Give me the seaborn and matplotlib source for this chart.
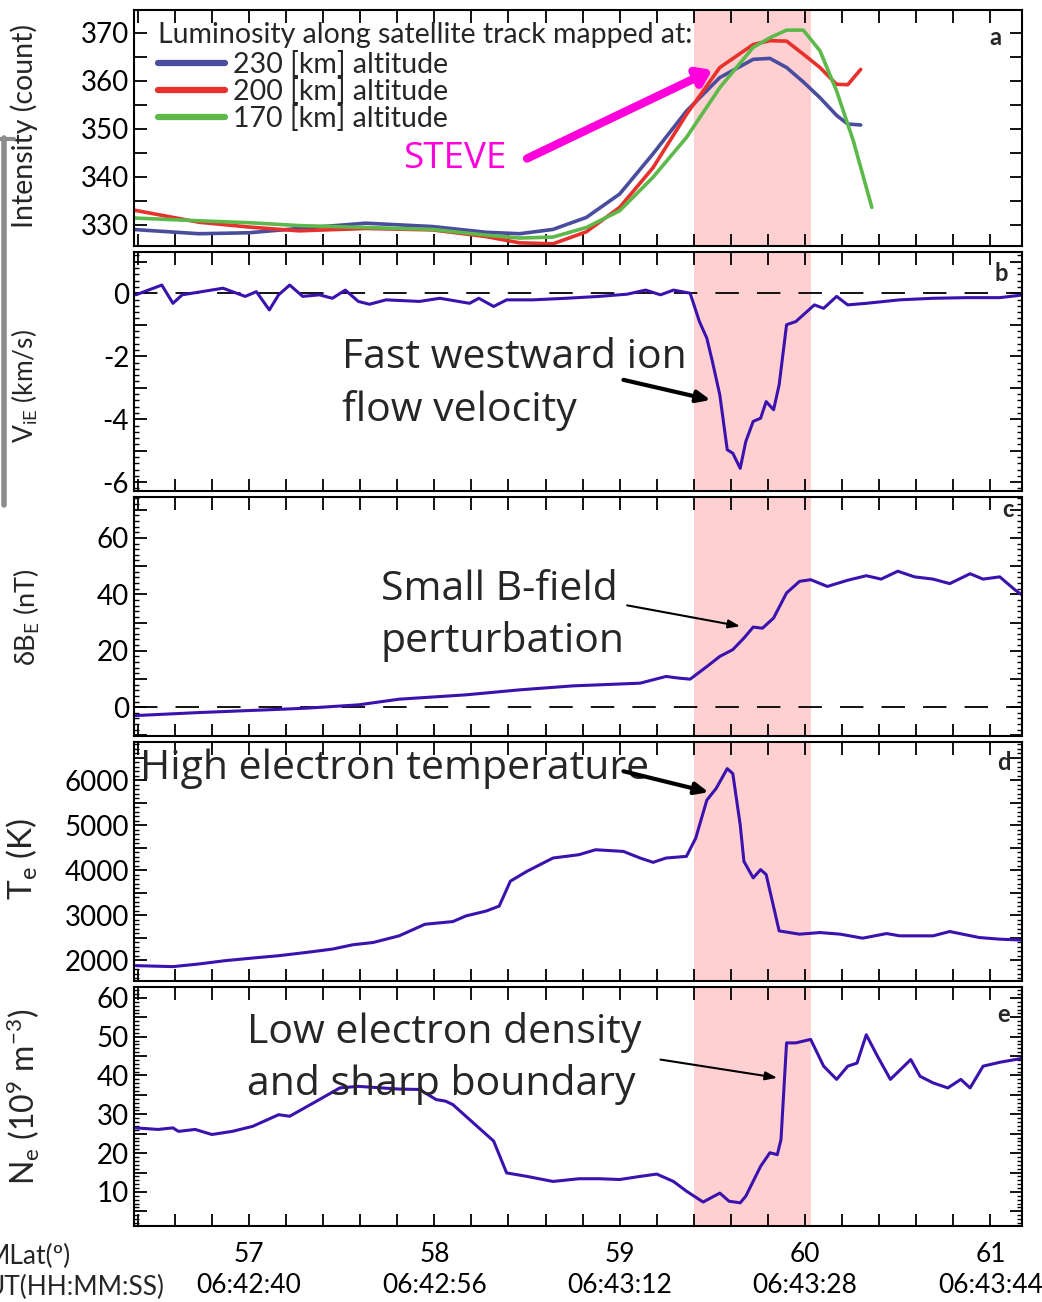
import matplotlib
matplotlib.use("Agg")
import matplotlib.pyplot as plt
from matplotlib.ticker import MultipleLocator, FuncFormatter
from matplotlib.lines import Line2D
import seaborn as sns

# ---------------- data ----------------
# panel a : luminosity along the satellite track
lat_lum = [56.37, 56.73, 57.0, 57.27, 57.63, 57.99, 58.28, 58.46, 58.64, 58.82, 59.0,
           59.18, 59.36, 59.54, 59.72, 59.81, 59.90, 59.99, 60.08, 60.17, 60.23, 60.30]
lum_230 = [329.0, 328.1, 328.3, 329.2, 330.3, 329.6, 328.4, 328.1, 329.0, 331.5, 336.4,
           344.8, 353.7, 360.7, 364.5, 364.7, 362.8, 359.8, 356.5, 352.8, 351.0, 350.8]
lum_200 = [333.1, 330.5, 329.5, 328.7, 329.2, 328.9, 327.5, 326.2, 326.0, 328.5, 333.6,
           341.9, 353.0, 362.8, 367.6, 368.4, 368.3, 365.6, 362.8, 359.3, 359.2, 362.4]
lat_lum_170 = [56.37, 56.73, 57.0, 57.27, 57.63, 57.99, 58.28, 58.46, 58.64, 58.82, 59.0,
               59.18, 59.36, 59.54, 59.72, 59.81, 59.90, 59.99, 60.08, 60.17, 60.26, 60.36]
lum_170 = [331.4, 330.8, 330.4, 329.8, 329.4, 329.0, 327.8, 327.2, 327.4, 329.4, 332.9,
           339.9, 348.2, 358.6, 367.0, 369.0, 370.6, 370.6, 366.3, 357.9, 347.5, 333.6]

# panel b : ion drift velocity V_iE (km/s)
lat_v = [56.39, 56.53, 56.59, 56.64, 56.86, 56.98, 57.04, 57.11, 57.16, 57.22, 57.29, 57.38,
         57.45, 57.52, 57.59, 57.65, 57.74, 57.92, 58.03, 58.19, 58.24, 58.32, 58.39, 58.53,
         58.71, 58.89, 59.04, 59.14, 59.22, 59.29, 59.38, 59.43, 59.47, 59.50, 59.54, 59.58,
         59.61, 59.65, 59.68, 59.72, 59.76, 59.79, 59.83, 59.86, 59.90, 59.95, 60.05, 60.10,
         60.17, 60.23, 60.33, 60.51, 60.69, 60.87, 61.05, 61.18]
v_ie = [-0.05, 0.26, -0.32, -0.05, 0.16, -0.10, 0.05, -0.53, -0.05, 0.26, -0.10, -0.05,
        -0.16, 0.10, -0.26, -0.35, -0.21, -0.26, -0.16, -0.32, -0.16, -0.42, -0.21, -0.21,
        -0.16, -0.10, -0.03, 0.10, -0.05, 0.10, 0.0, -0.90, -1.43, -2.17, -3.23, -4.97,
        -5.08, -5.56, -4.71, -4.07, -3.97, -3.44, -3.70, -2.91, -1.00, -0.90, -0.37, -0.48,
        -0.10, -0.37, -0.32, -0.21, -0.16, -0.14, -0.14, -0.05]

# panel c : magnetic perturbation dB_E (nT)
lat_b = [56.39, 56.73, 57.09, 57.31, 57.59, 57.81, 58.17, 58.46, 58.75, 58.89, 59.11, 59.25,
         59.32, 59.38, 59.47, 59.54, 59.61, 59.67, 59.72, 59.77, 59.83, 59.90, 59.97, 60.03,
         60.12, 60.23, 60.33, 60.41, 60.50, 60.59, 60.69, 60.78, 60.89, 60.96, 61.05, 61.13,
         61.18]
db_e = [-2.96, -1.9, -0.95, -0.35, 0.83, 2.84, 4.38, 6.15, 7.57, 7.93, 8.52, 10.9,
        10.3, 9.94, 14.4, 18.0, 20.4, 24.5, 28.4, 28.0, 31.6, 40.5, 44.6, 45.2,
        42.8, 45.0, 46.6, 45.4, 48.2, 46.2, 45.4, 43.8, 47.3, 45.4, 46.2, 41.7,
        39.3]

# panel d : electron temperature T_e (K)
lat_t = [56.39, 56.59, 56.73, 56.87, 57.02, 57.16, 57.31, 57.45, 57.56, 57.67, 57.81, 57.95,
         58.10, 58.17, 58.28, 58.35, 58.41, 58.50, 58.64, 58.78, 58.87, 59.02, 59.11, 59.18,
         59.25, 59.36, 59.41, 59.47, 59.52, 59.58, 59.61, 59.65, 59.67, 59.72, 59.76, 59.79,
         59.86, 59.97, 60.08, 60.19, 60.31, 60.44, 60.51, 60.69, 60.78, 60.94, 61.05, 61.18]
t_e = [1875, 1853, 1912, 1985, 2044, 2096, 2169, 2243, 2339, 2390, 2538, 2796,
       2855, 2980, 3090, 3200, 3753, 3974, 4269, 4343, 4453, 4416, 4269, 4173,
       4269, 4306, 4711, 5558, 5816, 6258, 6147, 5006, 4195, 3827, 4011, 3901,
       2648, 2575, 2611, 2575, 2486, 2589, 2538, 2538, 2634, 2500, 2464, 2442]

# panel e : electron density N_e (10^9 m^-3)
lat_n = [56.39, 56.51, 56.59, 56.62, 56.71, 56.80, 56.91, 57.02, 57.16, 57.22, 57.38, 57.49,
         57.59, 57.81, 57.92, 58.01, 58.06, 58.10, 58.21, 58.32, 58.39, 58.50, 58.64, 58.78,
         58.89, 59.00, 59.11, 59.20, 59.29, 59.36, 59.45, 59.54, 59.59, 59.65, 59.68, 59.76,
         59.81, 59.85, 59.87, 59.90, 59.95, 60.03, 60.10, 60.17, 60.23, 60.28, 60.33, 60.39,
         60.46, 60.57, 60.62, 60.69, 60.77, 60.84, 60.89, 60.96, 61.05, 61.18]
n_e = [26.5, 26.1, 26.5, 25.6, 26.1, 24.8, 25.6, 26.9, 29.9, 29.5, 33.8, 36.8,
       37.2, 36.5, 36.4, 33.8, 33.4, 32.5, 27.8, 23.1, 14.9, 14.0, 12.7, 13.4,
       13.4, 13.2, 14.0, 14.6, 12.7, 10.2, 7.4, 9.7, 7.6, 7.2, 8.9, 16.6,
       20.1, 19.6, 23.5, 48.4, 48.4, 49.3, 42.4, 39.0, 42.4, 43.2, 50.5, 45.0,
       39.0, 44.1, 39.8, 38.1, 36.8, 39.0, 36.8, 42.4, 43.4, 44.5]

mlat_ticks = [57, 58, 59, 60, 61]
ut_ticks = ["06:42:40", "06:42:56", "06:43:12", "06:43:28", "06:43:44"]
steve_band = (59.40, 60.03)

# ---------------- style ----------------
sns.set_style("ticks")
plt.rcParams["font.family"] = ["Lato", "DejaVu Sans"]
plt.rcParams["mathtext.default"] = "regular"
plt.rcParams["axes.linewidth"] = 1.5

note_font = ["Open Sans", "DejaVu Sans"]
note_size = 29.5
trace = "#3a12ad"
fig = plt.figure(figsize=(10.42, 13.02), dpi=100)

W_PX, H_PX = 1042, 1302
left, width = 134 / W_PX, 888 / W_PX
boxes = [(10, 245.7), (252.3, 490.7), (497, 735.7), (742, 980.7), (987, 1225.7)]
axs = [fig.add_axes([left, 1 - b / H_PX, width, (b - t) / H_PX]) for t, b in boxes]

for ax in axs:
    ax.axvspan(*steve_band, color="#ffd0d2", lw=0, zorder=0)
    ax.set_xlim(56.38, 61.17)
    ax.xaxis.set_major_locator(MultipleLocator(1))
    ax.xaxis.set_minor_locator(MultipleLocator(0.2))
    ax.tick_params(which="both", direction="in", top=True, right=True, width=1.3,
                   labelsize=20, colors="black")
    ax.tick_params(axis="x", which="both", length=9)
    ax.tick_params(axis="y", which="major", length=9)
    ax.tick_params(axis="y", which="minor", length=3.5, width=1.0)
    ax.set_xlabel("")
    for s in ax.spines.values():
        s.set_visible(True)
        s.set_color("black")


def every(n):
    return FuncFormatter(lambda v, p: f"{v:g}" if abs(v / n - round(v / n)) < 1e-6 else "")


# panel a
ax = axs[0]
sns.lineplot(x=lat_lum, y=lum_230, ax=ax, color="#4a4c9e", lw=2.6, label="230 [km] altitude",
             estimator=None)
sns.lineplot(x=lat_lum, y=lum_200, ax=ax, color="#e8312c", lw=2.6, label="200 [km] altitude",
             estimator=None)
sns.lineplot(x=lat_lum_170, y=lum_170, ax=ax, color="#5cb94a", lw=2.6, label="170 [km] altitude",
             estimator=None)
ax.set_ylim(325.6, 374.8)
ax.yaxis.set_major_locator(MultipleLocator(10))
ax.yaxis.set_minor_locator(MultipleLocator(5))
ax.tick_params(axis="y", which="minor", length=9, width=1.3)
ax.set_ylabel("Intensity (count)", fontsize=20.5)
leg = ax.legend(title="Luminosity along satellite track mapped at:", loc="upper left",
                bbox_to_anchor=(0.027, 0.95), frameon=False, fontsize=20.5,
                title_fontsize=20.5, labelspacing=0.0, handlelength=2.35,
                handletextpad=0.28, borderpad=0, borderaxespad=0)
leg._legend_box.align = "left"
leg._legend_box.sep = 2
for h in leg.get_lines():
    h.set_linewidth(4.5)
ax.annotate("", xy=(59.50, 362.3), xytext=(58.50, 343.8),
            arrowprops=dict(arrowstyle="-|>,head_length=0.8,head_width=0.55", lw=6,
                            color="#ff00dd", shrinkA=0, shrinkB=0))
ax.text(58.11, 343.8, "STEVE", color="#ff00dd", fontsize=26.5, ha="center", va="center",
        family=note_font)

# panel b
ax = axs[1]
ax.axhline(0, color="black", lw=1.3, ls=(0, (13, 10)), zorder=1)
sns.lineplot(x=lat_v, y=v_ie, ax=ax, color=trace, lw=2.2, estimator=None)
ax.set_ylim(-6.27, 1.30)
ax.yaxis.set_major_locator(MultipleLocator(1))
ax.yaxis.set_minor_locator(MultipleLocator(0.2))
ax.yaxis.set_major_formatter(every(2))
ax.set_ylabel("V$_{iE}$ (km/s)", fontsize=19)
ax.text(57.50, -1.42, "Fast westward ion\nflow velocity", fontsize=note_size, va="top",
        linespacing=1.36, family=note_font)
ax.annotate("", xy=(59.49, -3.39), xytext=(59.02, -2.75),
            arrowprops=dict(arrowstyle="-|>,head_length=0.8,head_width=0.35", lw=3,
                            color="black", shrinkA=0, shrinkB=0))

# panel c
ax = axs[2]
ax.axhline(0, color="black", lw=1.3, ls=(0, (13, 10)), zorder=1)
sns.lineplot(x=lat_b, y=db_e, ax=ax, color=trace, lw=2.2, estimator=None)
ax.set_ylim(-10.1, 74.5)
ax.yaxis.set_major_locator(MultipleLocator(10))
ax.yaxis.set_minor_locator(MultipleLocator(2))
ax.yaxis.set_major_formatter(every(20))
ax.set_ylabel("δB$_E$ (nT)", fontsize=19.5)
ax.text(57.71, 48.8, "Small B-field\nperturbation", fontsize=note_size, va="top",
        linespacing=1.36, family=note_font)
ax.annotate("", xy=(59.65, 28.7), xytext=(59.04, 36.1),
            arrowprops=dict(arrowstyle="-|>,head_length=0.7,head_width=0.25", lw=1.5,
                            color="black", shrinkA=0, shrinkB=0))

# panel d
ax = axs[3]
sns.lineplot(x=lat_t, y=t_e, ax=ax, color=trace, lw=2.2, estimator=None)
ax.set_ylim(1540, 6850)
ax.yaxis.set_major_locator(MultipleLocator(500))
ax.yaxis.set_minor_locator(MultipleLocator(100))
ax.yaxis.set_major_formatter(every(1000))
ax.set_ylabel("T$_e$ (K)", fontsize=24)
ax.text(56.41, 6260, "High electron temperature", fontsize=note_size, va="center",
        family=note_font)
ax.annotate("", xy=(59.48, 5733), xytext=(59.02, 6200),
            arrowprops=dict(arrowstyle="-|>,head_length=0.8,head_width=0.35", lw=3,
                            color="black", shrinkA=0, shrinkB=0))

# panel e
ax = axs[4]
sns.lineplot(x=lat_n, y=n_e, ax=ax, color=trace, lw=2.2, estimator=None)
ax.set_ylim(1.3, 62.8)
ax.yaxis.set_major_locator(MultipleLocator(5))
ax.yaxis.set_minor_locator(MultipleLocator(1))
ax.yaxis.set_major_formatter(every(10))
ax.set_ylabel("N$_e$ (10$^9$ m$^{-3}$)", fontsize=23)
ax.text(56.99, 56.4, "Low electron density\nand sharp boundary", fontsize=note_size, va="top",
        linespacing=1.36, family=note_font)
ax.annotate("", xy=(59.85, 39.4), xytext=(59.22, 44.1),
            arrowprops=dict(arrowstyle="-|>,head_length=0.7,head_width=0.25", lw=1.5,
                            color="black", shrinkA=0, shrinkB=0))
ax.set_xticks(mlat_ticks)
ax.set_xticklabels([f"{m}\n{u}" for m, u in zip(mlat_ticks, ut_ticks)], linespacing=1.3)
ax.tick_params(axis="x", pad=12, labelsize=19)

for ax in axs[:4]:
    ax.tick_params(axis="x", labelbottom=False)

# y label positions
label_pos = [(-0.108, 0.506), (-0.106, 0.44), (-0.104, 0.497), (-0.106, 0.51), (-0.104, 0.539)]
for ax, (lx, ly) in zip(axs, label_pos):
    ax.yaxis.set_label_coords(lx, ly)

# panel letters
letters = ["a", "b", "c", "d", "e"]
letter_pos = [(0.970, 0.885), (0.977, 0.913), (0.984, 0.946), (0.980, 0.916), (0.979, 0.883)]
for ax, s, (px, py) in zip(axs, letters, letter_pos):
    ax.text(px, py, s, transform=ax.transAxes, ha="center", va="center", fontsize=17,
            fontweight="bold")

# axis row captions, partly cut at the left edge like the source
fig.text(-14 / W_PX, 1 - 1244 / H_PX, "MLat(º)\nUT(HH:MM:SS)", fontsize=19, ha="left",
         va="top", linespacing=1.3)

# grey bracket at the left border of the screenshot
fig.add_artist(Line2D([4 / W_PX, 4 / W_PX], [1 - 138 / H_PX, 1 - 505 / H_PX],
                      color="#8c8c8c", lw=4))
fig.add_artist(Line2D([0, 14 / W_PX], [1 - 139 / H_PX, 1 - 139 / H_PX], color="#8c8c8c", lw=3))

fig.savefig("out.png", dpi=100)
